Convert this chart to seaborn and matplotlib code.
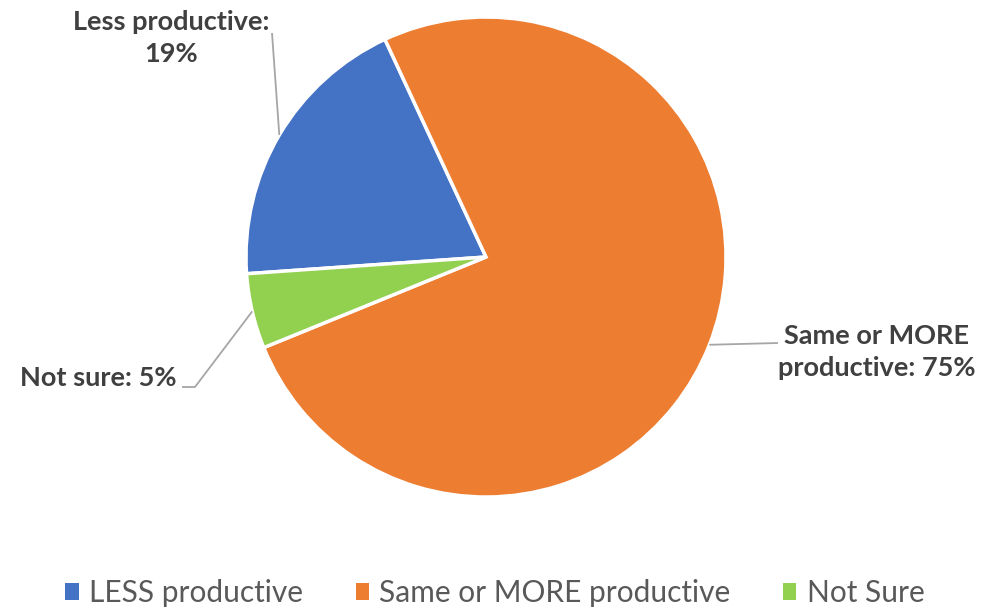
import numpy as np
import matplotlib
matplotlib.use("Agg")
import matplotlib.pyplot as plt
from matplotlib.patches import Patch
import seaborn as sns

categories = ["LESS productive", "Same or MORE productive", "Not Sure"]
shares = [19, 75, 5]
label_texts = ["Less productive:\n19%", "Same or MORE\nproductive: 75%", "Not sure: 5%"]
colors = ["#4472C4", "#ED7D31", "#92D050"]

sns.set_theme(style="white")
plt.rcParams["font.family"] = ["Lato", "DejaVu Sans"]

W, H = 986, 610
fig = plt.figure(figsize=(W / 100, H / 100), dpi=100)
ax = fig.add_axes([0, 0, 1, 1])

cx, cy, r = 486, H - 257, 240
wedges, _ = ax.pie(shares, colors=colors, startangle=184, counterclock=False,
                   center=(cx, cy), radius=r, frame=True,
                   wedgeprops=dict(edgecolor="white", linewidth=2.5))
ax.set_xlim(0, W)
ax.set_ylim(0, H)
ax.set_aspect("equal")
ax.axis("off")

# data labels with leader lines from each wedge's mid-angle
label_pos = [(171, H - 38), (877, H - 352), (98, H - 378)]
elbows = [[(272, H - 33)], [(778, H - 343)], [(182, H - 387), (195, H - 387)]]
for w, txt, (lx, ly), elb in zip(wedges, label_texts, label_pos, elbows):
    mid = np.deg2rad((w.theta1 + w.theta2) / 2)
    ex, ey = cx + r * np.cos(mid), cy + r * np.sin(mid)
    pts = elb + [(ex, ey)]
    xs, ys = zip(*pts)
    ax.plot(xs, ys, color="#A6A6A6", lw=1.3, solid_capstyle="butt")
    ax.text(lx, ly, txt, ha="center", va="center", fontsize=19.5,
            fontweight="bold", color="#404040", linespacing=1.35)

handles = [Patch(facecolor=c, edgecolor="none") for c in colors]
fig.legend(handles, categories, loc="center", bbox_to_anchor=(0.502, 1 - 593 / H),
           ncol=3, frameon=False, handlelength=0.44, handleheight=0.47,
           handletextpad=0.36, columnspacing=1.75, labelcolor="#595959",
           prop=dict(family=["Lato"], size=21.5))

fig.savefig("out.png", dpi=100, facecolor="white")
